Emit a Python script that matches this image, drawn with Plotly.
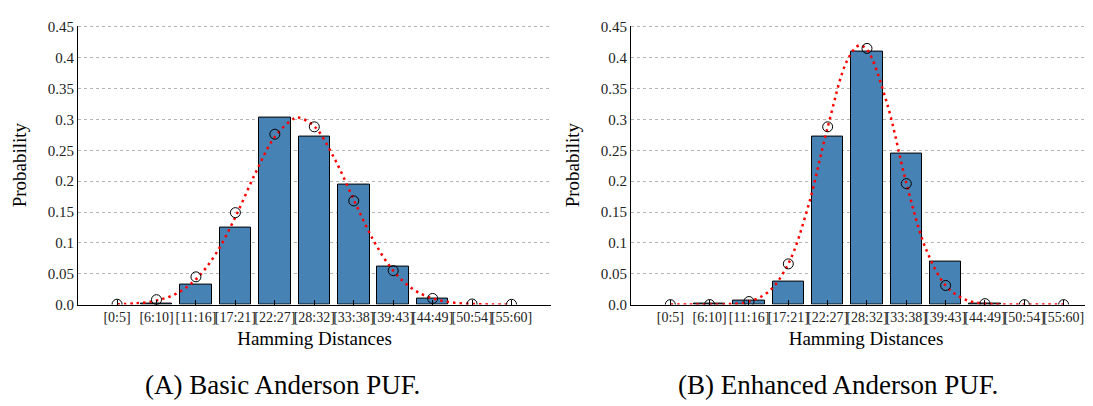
import plotly.graph_objects as go

categories = ["[0:5]", "[6:10]", "[11:16]", "[17:21]", "[22:27]", "[28:32]",
              "[33:38]", "[39:43]", "[44:49]", "[50:54]", "[55:60]"]

# (A) Basic Anderson PUF
basic_bars = [0.0, 0.0015, 0.032, 0.124, 0.303, 0.272, 0.195, 0.061, 0.010, 0.0, 0.0]
basic_points = [0.0006, 0.008, 0.045, 0.149, 0.276, 0.288, 0.168, 0.055, 0.010, 0.001, 0.0005]
basic_curve_x = [0, 0.5, 1, 1.5, 2, 2.5, 3, 3.5, 4, 4.5, 4.6, 5, 5.5, 6, 6.5, 7, 7.5, 8, 8.5, 9, 9.5, 10]
basic_curve_y = [0.0006, 0.0021, 0.0066, 0.0177, 0.041, 0.082, 0.142, 0.212, 0.272, 0.302, 0.303,
                 0.289, 0.238, 0.170, 0.104, 0.055, 0.025, 0.0099, 0.0034, 0.001, 0.0003, 0.0001]

# (B) Enhanced Anderson PUF
enh_bars = [0.0, 0.001, 0.006, 0.037, 0.273, 0.410, 0.244, 0.069, 0.0015, 0.0, 0.0]
enh_points = [0.0, 0.0001, 0.005, 0.066, 0.288, 0.415, 0.196, 0.031, 0.0016, 0.0, 0.0]
enh_curve_x = [0, 0.5, 1, 1.5, 2, 2.5, 3, 3.5, 4, 4.5, 4.8, 5, 5.5, 6, 6.5, 7, 7.5, 8, 8.5, 9, 9.5, 10]
enh_curve_y = [0.0, 0.0, 0.0001, 0.0009, 0.005, 0.021, 0.066, 0.158, 0.287, 0.396, 0.42,
               0.413, 0.328, 0.197, 0.090, 0.031, 0.0082, 0.0016, 0.0002, 0.0, 0.0, 0.0]

y_ticks = [0, 0.05, 0.1, 0.15, 0.2, 0.25, 0.3, 0.35, 0.4, 0.45]
y_ticktext = ["0.0", "0.05", "0.1", "0.15", "0.2", "0.25", "0.3", "0.35", "0.4", "0.45"]

captions = ["(A) Basic Anderson PUF.", "(B) Enhanced Anderson PUF."]

FONT = "Liberation Serif"
W, H = 1093, 406
xs = list(range(len(categories)))

fig = go.Figure()

panels = [
    (basic_bars, basic_points, basic_curve_x, basic_curve_y, "x", "y"),
    (enh_bars, enh_points, enh_curve_x, enh_curve_y, "x2", "y2"),
]
for bars, pts, cx, cy, xa, ya in panels:
    outline = [1 if v > 0 else 0 for v in bars]
    fig.add_trace(go.Bar(x=xs, y=bars, width=0.8, xaxis=xa, yaxis=ya,
                         marker=dict(color="#4682B4", line=dict(color="black", width=outline)),
                         showlegend=False))
    fig.add_trace(go.Scatter(x=cx, y=cy, mode="lines", xaxis=xa, yaxis=ya,
                             line=dict(color="#ff0000", width=2.5, dash="2.5px,4px", shape="spline"),
                             showlegend=False))
    fig.add_trace(go.Scatter(x=xs, y=pts, mode="markers", xaxis=xa, yaxis=ya,
                             marker=dict(symbol="circle-open", size=10, color="black",
                                         line=dict(width=1, color="black")),
                             showlegend=False))

def px_x(p):
    return p / W

def px_y(p):
    return (H - p) / H

y_dom = [px_y(301), px_y(12)]
x_common = dict(tickvals=xs, ticktext=categories, tickangle=0, showline=True, linecolor="black",
                linewidth=1, ticks="inside", ticklen=5, tickcolor="black", tickwidth=1,
                showgrid=False, zeroline=False,
                tickfont=dict(family=FONT, size=14, color="#222222"),
                title=dict(text="Hamming Distances", font=dict(family=FONT, size=19, color="black"),
                           standoff=7))
y_common = dict(range=[0, 0.452], tickvals=y_ticks, ticktext=y_ticktext, showline=True,
                linecolor="black", linewidth=1, ticks="", showgrid=True, gridcolor="#b5b5b5",
                griddash="dot", gridwidth=1, zeroline=False,
                tickfont=dict(family=FONT, size=15, color="#222222"),
                title=dict(text="Probability", font=dict(family=FONT, size=19, color="black"),
                           standoff=16))

fig.update_layout(
    width=W, height=H, margin=dict(l=0, r=0, t=0, b=0),
    plot_bgcolor="white", paper_bgcolor="white", bargap=0,
    font=dict(family=FONT),
    xaxis=dict(domain=[px_x(70), px_x(543)], range=[-0.99, 11.0], anchor="y", **x_common),
    yaxis=dict(domain=y_dom, anchor="x", **y_common),
    xaxis2=dict(domain=[px_x(623), px_x(1093)], range=[-1.0, 10.95], anchor="y2", **x_common),
    yaxis2=dict(domain=y_dom, anchor="x2", **y_common),
    annotations=[
        dict(text=captions[0], x=px_x(274), y=px_y(384), xref="paper", yref="paper",
             showarrow=False, xanchor="center", yanchor="middle",
             font=dict(family=FONT, size=27, color="black")),
        dict(text=captions[1], x=px_x(830), y=px_y(384), xref="paper", yref="paper",
             showarrow=False, xanchor="center", yanchor="middle",
             font=dict(family=FONT, size=27, color="black")),
    ],
)

fig.write_html("out.html")
